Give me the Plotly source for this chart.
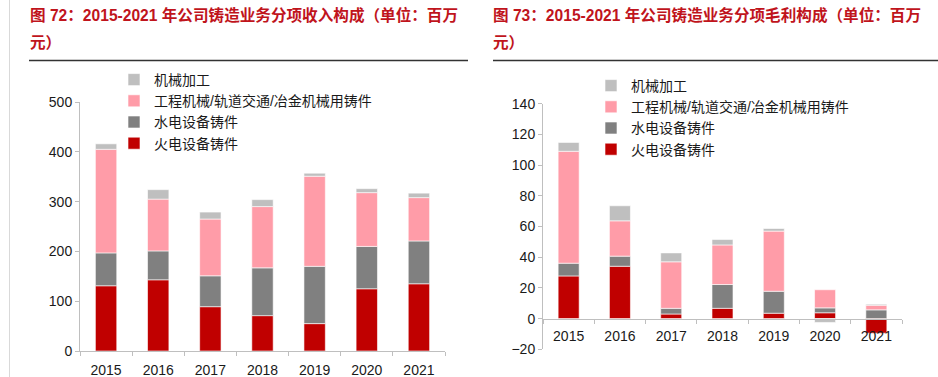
import plotly.graph_objects as go

years = ["2015", "2016", "2017", "2018", "2019", "2020", "2021"]
series_names = ["火电设备铸件", "水电设备铸件", "工程机械/轨道交通/冶金机械用铸件", "机械加工"]
series_colors = ["#C00000", "#808080", "#FF9CA8", "#BFBFBF"]

# Revenue (百万元)
rev_thermal = [131, 143, 89, 71, 55, 125, 135]
rev_hydro = [66, 58, 62, 96, 115, 85, 86]
rev_engineering = [208, 104, 114, 123, 181, 108, 87]
rev_machining = [11, 19, 14, 14, 6, 8, 9]

# Gross profit (百万元)
gp_thermal = [27.8, 34.1, 3.0, 6.7, 3.5, 3.8, -9.5]
gp_hydro = [8.3, 6.6, 3.7, 15.5, 14.3, 3.2, 5.7]
gp_engineering = [72.9, 23.0, 30.3, 25.8, 39.2, 11.8, 3.0]
gp_machining = [5.8, 9.8, 5.8, 3.5, 1.7, -2.5, 0.7]

title_left_1 = "图 72：2015-2021 年公司铸造业务分项收入构成（单位：百万"
title_right_1 = "图 73：2015-2021 年公司铸造业务分项毛利构成（单位：百万"
title_line_2 = "元）"

W, H = 938, 377
FONT = "Liberation Sans, Arial, Noto Sans CJK SC, sans-serif"
TXT = "#1a1a1a"
AX = "#BFBFBF"

x1_dom = [80 / W, 445 / W]
y1_dom = [(H - 351) / H, (H - 102) / H]
x2_dom = [543 / W, 902 / W]
y2_dom = [(H - 349.3) / H, (H - 103.7) / H]
y2_range = [-20, 140]
zero_pos = y2_dom[0] + (0 - y2_range[0]) / (y2_range[1] - y2_range[0]) * (y2_dom[1] - y2_dom[0])

fig = go.Figure()
rev = [rev_thermal, rev_hydro, rev_engineering, rev_machining]
gp = [gp_thermal, gp_hydro, gp_engineering, gp_machining]
for name, col, vals in zip(series_names, series_colors, rev):
    fig.add_trace(go.Bar(x=years, y=vals, name=name, marker=dict(color=col, line=dict(color="white", width=0.6)),
                         xaxis="x", yaxis="y", legend="legend"))
for name, col, vals in zip(series_names, series_colors, gp):
    fig.add_trace(go.Bar(x=years, y=vals, name=name, marker=dict(color=col, line=dict(color="white", width=0.6)),
                         xaxis="x2", yaxis="y2", legend="legend2"))

axis_common = dict(showgrid=False, zeroline=False, showline=True, linecolor=AX, linewidth=1,
                   ticks="outside", ticklen=4, tickcolor=AX, automargin=False,
                   tickfont=dict(family=FONT, size=14, color=TXT))

fig.update_layout(
    width=W, height=H, margin=dict(l=0, r=0, t=0, b=0, pad=0, autoexpand=False),
    paper_bgcolor="white", plot_bgcolor="white",
    barmode="relative", bargap=0.59,
    showlegend=True,
    xaxis=dict(domain=x1_dom, anchor="y", tickson="boundaries", ticklabelstandoff=6, **axis_common),
    yaxis=dict(domain=y1_dom, anchor="x", range=[0, 500], dtick=100, **axis_common),
    xaxis2=dict(domain=x2_dom, anchor="free", position=zero_pos, tickson="boundaries", ticklabelstandoff=5,
                **axis_common),
    yaxis2=dict(domain=y2_dom, anchor="x2", range=y2_range, dtick=20, **axis_common),
    legend=dict(x=114 / W, y=1 - 64 / H, xanchor="left", yanchor="top", traceorder="reversed",
                font=dict(family=FONT, size=14, color=TXT), itemwidth=30, tracegroupgap=0,
                bgcolor="rgba(0,0,0,0)"),
    legend2=dict(x=591 / W, y=1 - 70 / H, xanchor="left", yanchor="top", traceorder="reversed",
                 font=dict(family=FONT, size=14, color=TXT), itemwidth=30, tracegroupgap=0,
                 bgcolor="rgba(0,0,0,0)"),
)

tfont = dict(family=FONT, size=15.6, color="#C0141C")
for x0, t in [(29, title_left_1), (492, title_right_1)]:
    fig.add_annotation(text="<b>" + t + "</b>", x=x0 / W, y=1 - 15 / H, xref="paper", yref="paper",
                       xanchor="left", yanchor="middle", showarrow=False, font=tfont, borderpad=0)
    fig.add_annotation(text="<b>" + title_line_2 + "</b>", x=x0 / W, y=1 - 43 / H, xref="paper", yref="paper",
                       xanchor="left", yanchor="middle", showarrow=False, font=tfont, borderpad=0)

# underlines and left border
fig.add_shape(type="line", xref="paper", yref="paper", x0=29 / W, x1=468 / W, y0=1 - 60.5 / H, y1=1 - 60.5 / H,
              line=dict(color="#333333", width=1.5))
fig.add_shape(type="line", xref="paper", yref="paper", x0=493 / W, x1=1, y0=1 - 60.5 / H, y1=1 - 60.5 / H,
              line=dict(color="#333333", width=1.5))
fig.add_shape(type="line", xref="paper", yref="paper", x0=9.5 / W, x1=9.5 / W, y0=0, y1=1,
              line=dict(color="#D9D9D9", width=1))

fig.write_html("out.html", config={"displayModeBar": False},
               post_script="document.body.style.margin='0';document.body.style.overflow='hidden';")
